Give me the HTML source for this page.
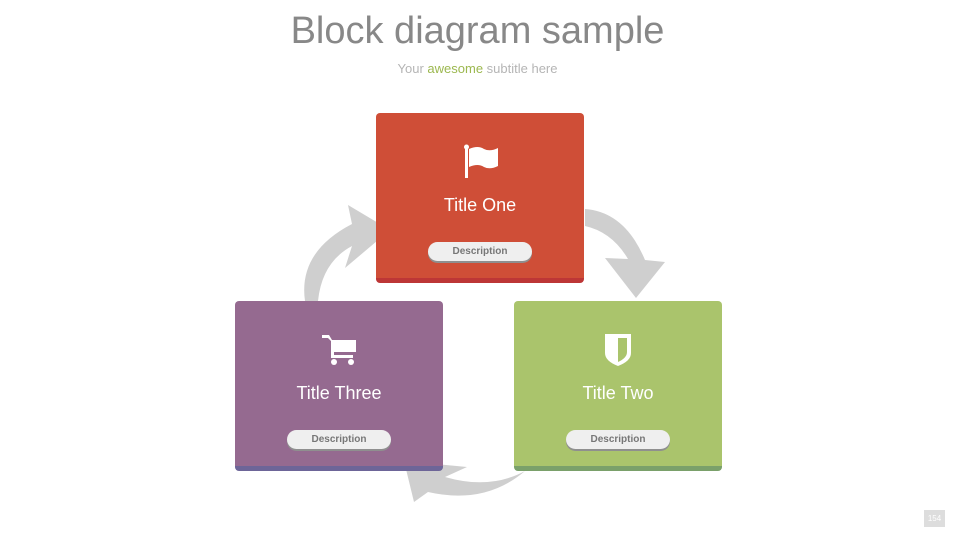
<!DOCTYPE html>
<html><head><meta charset="utf-8"><style>
body{margin:0;width:955px;height:537px;background:#fff;position:relative;overflow:hidden;font-family:"Liberation Sans",sans-serif}
.t{position:absolute;left:0;width:955px;text-align:center}
.box{position:absolute;width:208px;height:170px;border-radius:4px;box-sizing:border-box}
.box .tt{position:absolute;left:0;width:100%;top:82px;text-align:center;color:#fff;font-size:18px}
.pill{position:absolute;left:52px;width:104px;height:19px;top:129px;border-radius:10px;background:#efefef;box-shadow:0 2px 0 #8f8f8f;text-align:center;font-size:10px;font-weight:bold;color:#777;line-height:19px}
.ic{position:absolute;left:0;width:100%;top:30px;text-align:center}
</style></head><body>
<div class="t" style="top:10px;font-size:38px;color:#888">Block diagram sample</div>
<div class="t" style="top:61px;font-size:13px;color:#b5b5b5">Your <span style="color:#9cb84f">awesome</span> subtitle here</div>
<svg width="955" height="537" style="position:absolute;left:0;top:0">
<g fill="#cfcfcf">
<path d="M585,209 Q625,212 645,260 L665,262 L636,298 L605,258 L628,259 Q612,232 585,226 Z"/>
<path d="M305,301 Q298,252 352,224 L348,205 L390,230 L345,268 L352,246 Q322,262 318,301 Z"/>
<path d="M525,471 Q490,490 445,477 L467,467 L404,461 L414,502 L428,492 Q485,505 525,471 Z"/>
</g></svg>
<div class="box" style="left:376px;top:113px;background:#cf4e37;border-bottom:5px solid #bd3636">
<div class="ic"><svg width="40" height="36"><rect x="5" y="3" width="3" height="32" fill="#fff"/><circle cx="6.5" cy="4" r="2.5" fill="#fff"/><path d="M9,6 Q18,2 24,6 Q30,9 38,5 L38,23 Q30,27 24,24 Q18,20 9,24 Z" fill="#fff"/></svg></div>
<div class="tt">Title One</div><div class="pill">Description</div></div>
<div class="box" style="left:514px;top:301px;background:#aac46c;border-bottom:5px solid #7aa06a">
<div class="ic"><svg width="40" height="36"><path d="M7,3 L33,3 L33,22 Q33,30 20,35 Q7,30 7,22 Z" fill="#fff"/><path d="M20,7 L29,7 L29,21 Q29,27 20,31 Z" fill="#aac46c"/></svg></div>
<div class="tt">Title Two</div><div class="pill">Description</div></div>
<div class="box" style="left:235px;top:301px;background:#956a90;border-bottom:5px solid #6d6598">
<div class="ic"><svg width="40" height="36"><path d="M3,4 L10,4 L13,9 L37,9 L37,21 L15,21 L15,24 L34,24 L34,27 L12,27 L12,10 L9,7 L3,7 Z" fill="#fff"/><circle cx="15" cy="31" r="3" fill="#fff"/><circle cx="32" cy="31" r="3" fill="#fff"/></svg></div>
<div class="tt">Title Three</div><div class="pill">Description</div></div>
<div style="position:absolute;left:924px;top:510px;width:21px;height:17px;background:#ddd;color:#fff;font-size:8px;text-align:center;line-height:17px">154</div>
</body></html>
